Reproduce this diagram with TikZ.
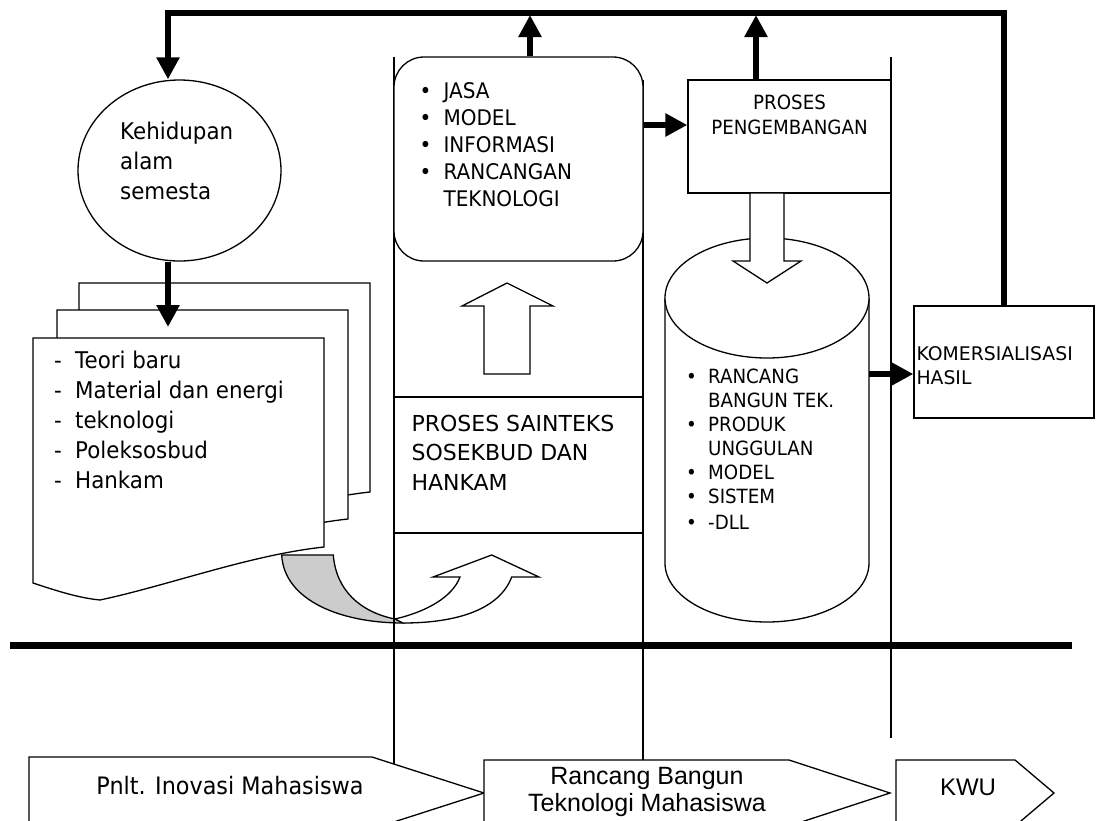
\documentclass[tikz,border=0pt]{standalone}
\usepackage{fontspec}
\setmainfont{DejaVu Sans}[FakeStretch=0.93]
\newfontfamily\capsfont{DejaVu Sans}
\newfontfamily\arialfont{Liberation Sans}
\usetikzlibrary{positioning}
\usetikzlibrary{arrows,shapes,calc,arrows.meta}
\tikzset{
    >={Triangle[length=22pt,width=22pt]}, % big solid arrow heads
    box/.style={draw, fill=white, line width=1.3pt},
    lane/.style={line width=1.3pt},
    fb/.style={line width=6pt, ->},
    hollow/.style={draw, fill=white, line width=1.3pt},
    txt/.style={inner sep=0pt, anchor=north west},
}

\begin{document}
\begin{tikzpicture}[x=1pt, y=-1pt]
    \useasboundingbox (0,0) rectangle (1096,820);
    \clip (0,0) rectangle (1096,820);

    % curved arrow from the papers into the middle lane
    \draw[box, fill=gray!40] (281.7,555) -- (333.3,555) .. controls (336,590) and (360,612) .. (395,619)
        -- (403,623) .. controls (340,623) and (284,600) .. (281.7,555) -- cycle;
    \draw[box] (395,619) .. controls (425,612) and (452,598) .. (460,577) -- (433,577) -- (491.7,555)
        -- (539,577) -- (511.7,577) .. controls (500,608) and (460,623) .. (403,623) -- cycle;

    % lanes
    \draw[lane] (394,57) -- (394,770);
    \draw[lane] (643,80) -- (643,766);
    \draw[lane] (891,57) -- (891,738);
    \draw[line width=7pt] (10,645) -- (1072,645);

    % stack of papers
    \foreach \dx/\dy in {46/-55, 24/-28, 0/0}
        \draw[box, shift={(\dx,\dy)}] (33,338) -- (324,338) -- (324,547)
            .. controls (250,555) and (170,585) .. (100,600)
            .. controls (80,598) and (60,592) .. (33,583) -- cycle;
    \coordinate (docin) at (168,327);

    % cylinder
    \draw[box] (665,298) -- (665,563) arc[start angle=180, end angle=0, x radius=102, y radius=59] -- (869,298);
    \draw[box] (767,298) ellipse [x radius=102, y radius=60];
    \coordinate (cylR) at (869,374);

    % boxes
    \node[box, ellipse, minimum width=203pt, minimum height=181pt] (alam) at (179.5,170.5) {};
    \node[box, rounded corners=30pt, minimum width=249pt, minimum height=204pt] (tech) at (518.5,159) {};
    \node[box, minimum width=203pt, minimum height=113pt] (peng) at (789.5,136.5) {};
    \node[box, minimum width=249pt, minimum height=136pt] (saint) at (518.5,465) {};
    \node[box, minimum width=180pt, minimum height=112pt] (kom) at (1004,362) {};

    % texts
    \node[txt, font=\fontsize{23}{30}\selectfont] (alamtxt) at (120,118.3)
        {\begin{tabular}{@{}l@{}}Kehidupan\\alam\\semesta\end{tabular}};
    \node[txt, font=\fontsize{23}{30}\selectfont] (doctxt) at (54,347.3)
        {\begin{tabular}{@{}p{21pt}@{}l@{}}
        - & Teori baru\\
        - & Material dan energi\\
        - & teknologi\\
        - & Poleksosbud\\
        - & Hankam
        \end{tabular}};
    \node[txt, font=\fontsize{21.5}{27}\selectfont, below right=23pt and 26pt of tech.north west] (techtxt)
        {\begin{tabular}{@{}p{24pt}@{}l@{}}
        \textbullet & JASA\\
        \textbullet & MODEL\\
        \textbullet & INFORMASI\\
        \textbullet & RANCANGAN\\
                    & TEKNOLOGI
        \end{tabular}};
    \node[txt, font=\capsfont\fontsize{22}{29.5}\selectfont, below right=14pt and 18pt of saint.north west] (sainttxt)
        {\begin{tabular}{@{}l@{}}PROSES SAINTEKS\\SOSEKBUD DAN\\HANKAM\end{tabular}};
    \node[txt, anchor=north, font=\fontsize{19.6}{25}\selectfont, below=12.5pt of peng.north] (pengtxt)
        {\begin{tabular}{@{}c@{}}PROSES\\PENGEMBANGAN\end{tabular}};
    \node[txt, font=\fontsize{19.6}{24}\selectfont] (cyltxt) at (686,366.5)
        {\begin{tabular}{@{}p{22pt}@{}l@{}}
        \textbullet & RANCANG\\
                    & BANGUN TEK.\\
        \textbullet & PRODUK\\
                    & UNGGULAN\\
        \textbullet & MODEL\\
        \textbullet & SISTEM\\[2pt]
        \textbullet & -DLL
        \end{tabular}};
    \node[txt, font=\capsfont\fontsize{18.8}{24}\selectfont, below right=38pt and 3pt of kom.north west] (komtxt)
        {\begin{tabular}{@{}l@{}}KOMERSIALISASI\\HASIL\end{tabular}};

    % hollow block arrows
    \draw[hollow] (750,193) -- (750,261) -- (733,261) -- (767,283) -- (801,261) -- (784,261) -- (784,193) -- cycle;
    \draw[hollow] (484,374) -- (484,306) -- (462,306) -- (507,283) -- (553,306) -- (530,306) -- (530,374) -- cycle;

    % thick arrows
    \coordinate (ttop) at (0,13);
    \coordinate (ttip) at (0,15);
    \draw[fb] (kom.north) -- (kom.north |- ttop) -- ([xshift=-11.5pt]alam.north |- ttop) -- ([xshift=-11.5pt]alam.north);
    \draw[fb] ([xshift=11.5pt]tech.north) -- ([xshift=11.5pt]tech.north |- ttip);
    \draw[fb] ([xshift=-33.5pt]peng.north) -- ([xshift=-33.5pt]peng.north |- ttip);
    \draw[fb] (tech.east |- 0,125) -- (peng.west |- 0,125);
    \draw[fb] ([xshift=-11.5pt]alam.south) -- (docin);
    \draw[fb] (cylR) -- (kom.west |- cylR);

    % bottom stages
    \draw[lane, fill=white] (29,757) -- (372,757) -- (484,793) -- (372,829) -- (29,829) -- cycle;
    \draw[lane, fill=white] (484,760) -- (789,760) -- (890,793) -- (789,826) -- (484,826) -- cycle;
    \draw[lane, fill=white] (896,760) -- (1015,760) -- (1054,793) -- (1015,826) -- (896,826) -- cycle;
    \node[anchor=base, inner sep=0pt, font=\fontsize{24}{30}\selectfont] (pnlt) at (230,794) {Pnlt. Inovasi Mahasiswa};
    \node[txt, anchor=north, font=\arialfont\fontsize{25}{27}\selectfont] (rbt) at (647,765.1)
        {\begin{tabular}{@{}c@{}}Rancang Bangun\\Teknologi Mahasiswa\end{tabular}};
    \node[anchor=base, inner sep=0pt, font=\arialfont\fontsize{24}{29}\selectfont] (kwu) at (968,795) {KWU};
\end{tikzpicture}
\end{document}
